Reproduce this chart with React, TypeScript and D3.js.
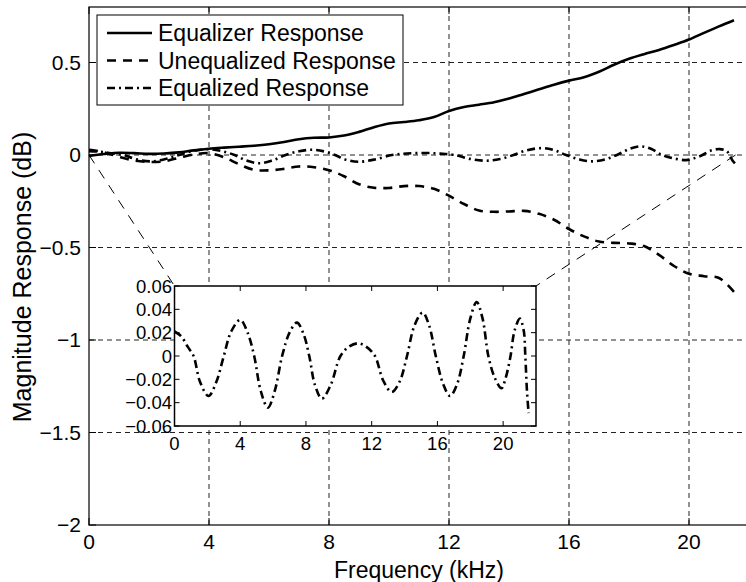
import React from "react";
import * as d3 from "d3";

// frequency grid (kHz) for the two main curves
const freq = [
  0, 0.5, 1, 1.5, 2, 2.5, 3, 3.5, 4, 4.5, 5, 5.5, 6, 6.5, 7, 7.5, 8, 8.5, 9, 9.5, 10, 10.5,
  11, 11.5, 12, 12.5, 13, 13.5, 14, 14.5, 15, 15.5, 16, 16.5, 17, 17.5, 18, 18.5, 19, 19.5,
  20, 20.5, 21, 21.5,
];

const equalizerDb = [
  -0.005, 0.005, 0.012, 0.01, 0.006, 0.008, 0.014, 0.025, 0.034, 0.04, 0.045, 0.05, 0.058,
  0.07, 0.085, 0.093, 0.095, 0.105, 0.125, 0.15, 0.17, 0.178, 0.188, 0.205, 0.238, 0.26,
  0.272, 0.285, 0.305, 0.33, 0.355, 0.38, 0.402, 0.42, 0.45, 0.488, 0.52, 0.545, 0.568,
  0.595, 0.624, 0.66, 0.695, 0.728,
];

const unequalizedDb = [
  0.028, 0.015, -0.01, -0.03, -0.038, -0.034, -0.015, 0.003, 0.01, -0.012, -0.05, -0.08,
  -0.083, -0.075, -0.062, -0.066, -0.082, -0.115, -0.158, -0.177, -0.178, -0.168, -0.168,
  -0.183, -0.22, -0.265, -0.3, -0.307, -0.305, -0.302, -0.318, -0.35, -0.4, -0.44, -0.468,
  -0.475, -0.478, -0.492, -0.54, -0.6, -0.642, -0.655, -0.665, -0.74,
];

// equalized response (finer detail)
const equalizedFreq = [
  0, 0.4, 0.8, 1.16, 1.55, 2.07, 2.55, 3.0, 3.45, 4.0, 4.45, 4.85, 5.25, 5.68, 6.1, 6.55,
  7.0, 7.45, 7.85, 8.2, 8.55, 8.97, 9.5, 10.1, 10.6, 11.19, 11.7, 12.2, 12.7, 13.22, 13.7,
  14.15, 14.6, 15.1, 15.5, 15.9, 16.35, 16.77, 17.2, 17.6, 18.0, 18.39, 18.75, 19.1, 19.5,
  19.9, 20.15, 20.45, 20.7, 21.02, 21.25, 21.35, 21.45, 21.55,
];
const equalizedDb = [
  0.021, 0.017, 0.008, 0.0, -0.022, -0.0343, -0.022, 0.0, 0.021, 0.031, 0.02, 0.0, -0.03,
  -0.0443, -0.03, 0.0, 0.02, 0.0286, 0.019, 0.0, -0.025, -0.0366, -0.025, 0.0, 0.0078,
  0.0109, 0.0076, 0.0, -0.021, -0.0309, -0.022, 0.0, 0.026, 0.0372, 0.026, 0.0, -0.024,
  -0.0343, -0.024, 0.0, 0.032, 0.0463, 0.032, 0.0, -0.019, -0.0277, -0.019, 0.0, 0.022,
  0.032, 0.022, 0.0, -0.03, -0.049,
];

const xTicks = [0, 4, 8, 12, 16, 20];
const yTicks = [0.5, 0, -0.5, -1, -1.5, -2];
const insetYTicks = [0.06, 0.04, 0.02, 0, -0.02, -0.04, -0.06];
const legendLabels = ["Equalizer Response", "Unequalized Response", "Equalized Response"];

const W = 746;
const H = 582;
const font = "'Liberation Sans', Arial, Helvetica, sans-serif";
const fmt = (v: number) => (v < 0 ? "\u2212" : "") + String(Math.abs(v));

const DASH = "9,7";
const DASHDOT = "8,4,2,4";
const GRID = "5,4";

export default function App() {
  // main axes
  const x = d3.scaleLinear().domain([0, 22]).range([89, 749]);
  const y = d3.scaleLinear().domain([-2, 0.8]).range([525, 7]);
  // inset axes
  const ix = d3.scaleLinear().domain([0, 22]).range([174.5, 536]);
  const iy = d3.scaleLinear().domain([-0.06, 0.06]).range([426, 286]);

  const mainLine = d3
    .line<[number, number]>()
    .x((d) => x(d[0]))
    .y((d) => y(d[1]))
    .curve(d3.curveCatmullRom);
  const insetLine = d3
    .line<[number, number]>()
    .x((d) => ix(d[0]))
    .y((d) => iy(d[1]))
    .curve(d3.curveCatmullRom);

  const eqz = freq.map((f, i) => [f, equalizerDb[i]] as [number, number]);
  const uneq = freq.map((f, i) => [f, unequalizedDb[i]] as [number, number]);
  const equal = equalizedFreq.map((f, i) => [f, equalizedDb[i]] as [number, number]);

  const [x0, x1] = x.range();
  const [yb, yt] = y.range();
  const [ix0, ix1] = ix.range();
  const [iyb, iyt] = iy.range();
  const lastF = equalizedFreq[equalizedFreq.length - 1];

  const legendStyles = [undefined, DASH, DASHDOT];

  return (
    <svg
      width={W}
      height={H}
      style={{ position: "absolute", left: 0, top: 0, background: "#fff" }}
      fontFamily={font}
    >
      <rect x={0} y={0} width={W} height={H} fill="#fff" />

      {/* grid */}
      {xTicks.filter((t) => t !== 0).map((t) => (
        <line key={"gx" + t} x1={x(t)} x2={x(t)} y1={yt} y2={yb} stroke="#222" strokeWidth={1} strokeDasharray={GRID} />
      ))}
      {yTicks.filter((t) => t !== -2).map((t) => (
        <line key={"gy" + t} x1={x0} x2={x1} y1={y(t)} y2={y(t)} stroke="#222" strokeWidth={1} strokeDasharray={GRID} />
      ))}

      {/* curves */}
      <path d={mainLine(eqz) || ""} fill="none" stroke="#000" strokeWidth={2.6} />
      <path d={mainLine(uneq) || ""} fill="none" stroke="#000" strokeWidth={2.6} strokeDasharray={DASH} />
      <path d={mainLine(equal) || ""} fill="none" stroke="#000" strokeWidth={2.6} strokeDasharray={DASHDOT} />

      {/* zoom connector lines */}
      <line x1={x(0)} y1={y(0)} x2={ix0} y2={iyt} stroke="#000" strokeWidth={1} strokeDasharray="10,8" />
      <line x1={x(lastF)} y1={y(0)} x2={ix1} y2={iyt} stroke="#000" strokeWidth={1} strokeDasharray="10,8" />

      {/* ticks (inside) */}
      {xTicks.map((t) => (
        <g key={"tx" + t}>
          <line x1={x(t)} x2={x(t)} y1={yb} y2={yb - 7} stroke="#000" />
          <line x1={x(t)} x2={x(t)} y1={yt} y2={yt + 7} stroke="#000" />
          <text x={x(t)} y={549} fontSize={21} textAnchor="middle" fill="#000">
            {fmt(t)}
          </text>
        </g>
      ))}
      {yTicks.map((t) => (
        <g key={"ty" + t}>
          <line x1={x0} x2={x0 + 7} y1={y(t)} y2={y(t)} stroke="#000" />
          <text x={81} y={y(t) + 7} fontSize={21} textAnchor="end" fill="#000">
            {fmt(t)}
          </text>
        </g>
      ))}
      <rect x={x0} y={yt} width={x1 - x0} height={yb - yt} fill="none" stroke="#000" strokeWidth={1.2} />

      <text x={419} y={578} fontSize={23} textAnchor="middle" fill="#000">
        Frequency (kHz)
      </text>
      <text
        transform={`translate(31,277) rotate(-90)`}
        fontSize={25}
        textAnchor="middle"
        fill="#000"
      >
        Magnitude Response (dB)
      </text>

      {/* legend */}
      <rect x={97} y={15} width={306} height={90} fill="#fff" stroke="#000" strokeWidth={1} />
      {legendLabels.map((label, i) => {
        const ly = 33 + i * 27.5;
        return (
          <g key={label}>
            <line x1={107} x2={152} y1={ly} y2={ly} stroke="#000" strokeWidth={2.6} strokeDasharray={legendStyles[i]} />
            <text x={158} y={ly + 8} fontSize={23} fill="#000">
              {label}
            </text>
          </g>
        );
      })}

      {/* inset */}
      <rect x={ix0} y={iyt} width={ix1 - ix0} height={iyb - iyt} fill="#fff" />
      <path d={insetLine(equal) || ""} fill="none" stroke="#000" strokeWidth={2.6} strokeDasharray={DASHDOT} />
      {xTicks.map((t) => (
        <g key={"itx" + t}>
          <line x1={ix(t)} x2={ix(t)} y1={iyb} y2={iyb - 5} stroke="#000" />
          <line x1={ix(t)} x2={ix(t)} y1={iyt} y2={iyt + 5} stroke="#000" />
          <text x={ix(t)} y={450} fontSize={18.5} textAnchor="middle" fill="#000">
            {fmt(t)}
          </text>
        </g>
      ))}
      {insetYTicks.map((t) => (
        <g key={"ity" + t}>
          <line x1={ix0} x2={ix0 + 5} y1={iy(t)} y2={iy(t)} stroke="#000" />
          <line x1={ix1} x2={ix1 - 5} y1={iy(t)} y2={iy(t)} stroke="#000" />
          <text x={172} y={iy(t) + 6.5} fontSize={18.5} textAnchor="end" fill="#000">
            {fmt(t)}
          </text>
        </g>
      ))}
      <rect x={ix0} y={iyt} width={ix1 - ix0} height={iyb - iyt} fill="none" stroke="#000" strokeWidth={1.5} />
    </svg>
  );
}
